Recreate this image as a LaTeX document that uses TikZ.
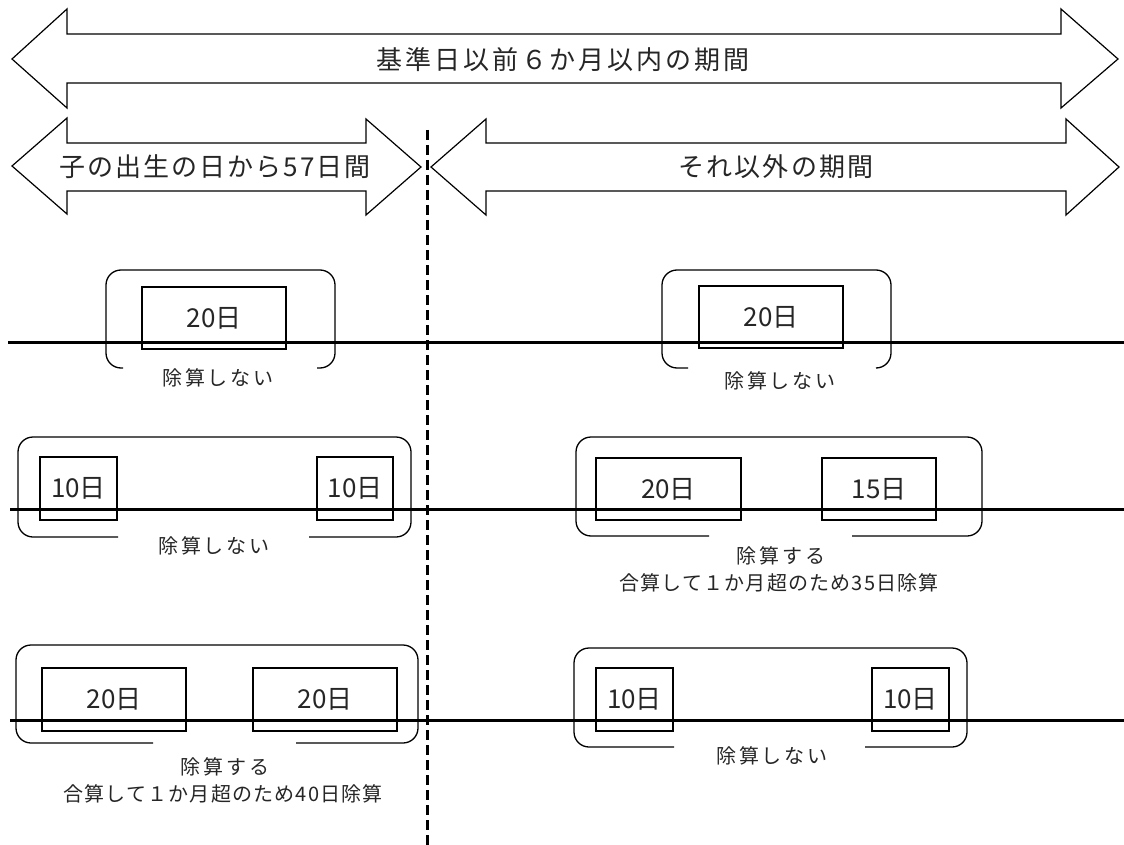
\documentclass[tikz,border=0pt]{standalone}
\usepackage{fontspec}
\setmainfont{Noto Sans CJK JP}
\newfontfamily\jpTitle[LetterSpace=11]{Noto Sans CJK JP}
\newfontfamily\jpSub[LetterSpace=8]{Noto Sans CJK JP}
\newfontfamily\jpNote[LetterSpace=14]{Noto Sans CJK JP}
\newfontfamily\jpLong[LetterSpace=6]{Noto Sans CJK JP}
\begin{document}
\begin{tikzpicture}[x=1pt,y=-1pt,
  arrowshape/.style={draw=black, line width=1.2pt, fill=white, line join=miter},
  daybox/.style={draw=black, line width=1.3pt, inner sep=0pt, text=black!85,
    font=\fontsize{26}{30}\selectfont},
  bracket/.style={draw=black, line width=1.3pt, rounded corners=15pt},
  timeline/.style={draw=black, line width=3pt},
  dashline/.style={draw=black, line width=3pt, dash pattern=on 10pt off 5pt},
  arrowlabel/.style={inner sep=0pt, text=black!85, font=\jpTitle\fontsize{26}{30}\selectfont},
  sublabel/.style={inner sep=0pt, text=black!85, font=\jpSub\fontsize{26}{30}\selectfont},
  note/.style={inner sep=0pt, text=black!85, font=\jpNote\fontsize{20}{24}\selectfont},
  longnote/.style={inner sep=0pt, text=black!85, font=\jpLong\fontsize{20}{24}\selectfont}]
\useasboundingbox (0,0) rectangle (1124,845);
\fill[white] (0,0) rectangle (1124,845);

% top double arrow
\draw[arrowshape] (12,59) -- (67,9) -- (67,34) -- (1061,34) -- (1061,9) -- (1118,59)
  -- (1061,108) -- (1061,83) -- (67,83) -- (67,108) -- cycle;
\node[arrowlabel] (title) at (563,60) {基準日以前６か月以内の期間};

% second row arrows
\draw[arrowshape] (12,166) -- (67,118) -- (67,143) -- (366,143) -- (366,119) -- (421,167)
  -- (366,215) -- (366,191) -- (67,191) -- (67,214) -- cycle;
\node[sublabel] (birth) at (215,167) {子の出生の日から57日間};
\draw[arrowshape] (431,167) -- (486,119) -- (486,143) -- (1066,143) -- (1066,119) -- (1119,167)
  -- (1066,215) -- (1066,191) -- (486,191) -- (486,215) -- cycle;
\node[sublabel] (other) at (776,167) {それ以外の期間};

% dashed divider
\coordinate (dtop) at (427,130);
\coordinate (dbot) at (427,845);
\draw[dashline] (dtop) -- (dbot);

% ---------- row 1 ----------
\draw[bracket] (123,368) -- (106,368) -- (106,270) -- (335,270) -- (335,368) -- (317,368);
\node[daybox, minimum width=144pt, minimum height=62pt] (r1a) at (214,318) {20日};
\node[note] (r1al) at (218,378) {除算しない};

\draw[bracket] (688,368) -- (662,368) -- (662,270) -- (891,270) -- (891,368) -- (876,368);
\node[daybox, minimum width=144pt, minimum height=62pt] (r1b) at (771,317) {20日};
\node[note] (r1bl) at (780,381) {除算しない};

\draw[timeline] (8,342) -- (1124,342);

% ---------- row 2 ----------
\draw[bracket] (118,537) -- (18,537) -- (18,437) -- (411,437) -- (411,537) -- (309,537);
\node[daybox, minimum width=77pt, minimum height=63pt] (r2a) at (78.5,488.5) {10日};
\node[daybox, minimum width=76pt, minimum height=63pt] (r2b) at (355,488.5) {10日};
\node[note] (r2al) at (214,546) {除算しない};

\draw[bracket] (709,536) -- (576,536) -- (576,437) -- (982,437) -- (982,536) -- (852,536);
\node[daybox, minimum width=145pt, minimum height=62pt] (r2c) at (668.5,489) {20日};
\node[daybox, minimum width=114pt, minimum height=62pt] (r2d) at (879,489) {15日};
\node[note] (r2cl) at (781,556) {除算する};
\node[longnote] (r2cm) at (779,583) {合算して１か月超のため35日除算};

\draw[timeline] (10,509) -- (1124,509);

% ---------- row 3 ----------
\draw[bracket] (153,743) -- (16,743) -- (16,645) -- (418,645) -- (418,743) -- (296,743);
\node[daybox, minimum width=144pt, minimum height=63pt] (r3a) at (114,699.5) {20日};
\node[daybox, minimum width=144pt, minimum height=63pt] (r3b) at (325,699.5) {20日};
\node[note] (r3al) at (225,767) {除算する};
\node[longnote] (r3am) at (223,794) {合算して１か月超のため40日除算};

\draw[bracket] (674,747) -- (574,747) -- (574,648) -- (967,648) -- (967,747) -- (865,747);
\node[daybox, minimum width=77pt, minimum height=63pt] (r3c) at (634.5,699.5) {10日};
\node[daybox, minimum width=77pt, minimum height=63pt] (r3d) at (910.5,699.5) {10日};
\node[note] (r3cl) at (772,756) {除算しない};

\draw[timeline] (10,720) -- (1124,720);
\end{tikzpicture}
\end{document}
